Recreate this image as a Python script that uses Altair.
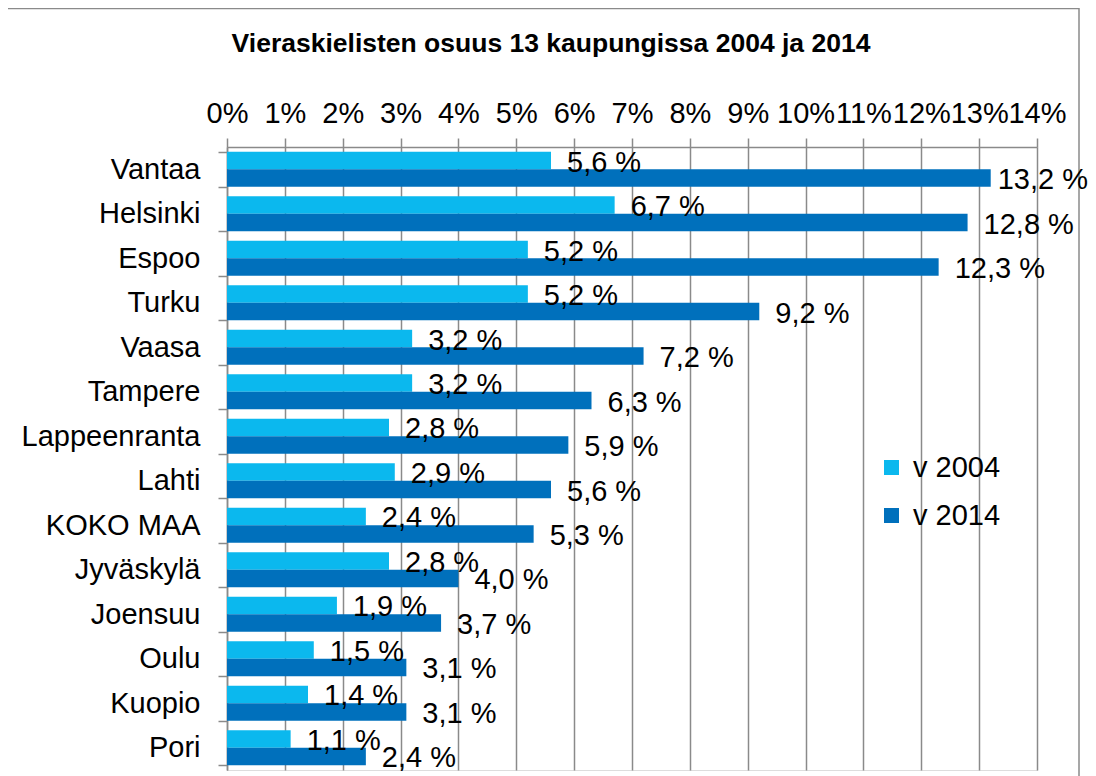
import altair as alt
import pandas as pd

categories = ["Vantaa", "Helsinki", "Espoo", "Turku", "Vaasa", "Tampere", "Lappeenranta",
              "Lahti", "KOKO MAA", "Jyväskylä", "Joensuu", "Oulu", "Kuopio", "Pori"]
v2004 = [5.6, 6.7, 5.2, 5.2, 3.2, 3.2, 2.8, 2.9, 2.4, 2.8, 1.9, 1.5, 1.4, 1.1]
v2014 = [13.2, 12.8, 12.3, 9.2, 7.2, 6.3, 5.9, 5.6, 5.3, 4.0, 3.7, 3.1, 3.1, 2.4]
series = ["v 2004", "v 2014"]
colors = ["#0BB8EE", "#0070BC"]
x_ticks = list(range(0, 15))
title_text = "Vieraskielisten osuus 13 kaupungissa 2004 ja 2014"

rows = []
for c, a, b in zip(categories, v2004, v2014):
    rows.append({"kaupunki": c, "sarja": series[0], "arvo": a})
    rows.append({"kaupunki": c, "sarja": series[1], "arvo": b})
df = pd.DataFrame(rows)

FONT = "Liberation Sans"
GRAY = "#8a8a8a"
FS = 29

y_enc = alt.Y(
    "kaupunki:N", sort=categories,
    scale=alt.Scale(paddingInner=0.213, paddingOuter=0.107),
    axis=alt.Axis(title=None, labelFontSize=FS, labelFont=FONT, labelColor="black",
                  labelPadding=18, tickSize=9, tickBand="extent", tickColor=GRAY,
                  tickWidth=1.5, domainColor=GRAY, domainWidth=1.5, grid=False),
)
yoff_enc = alt.YOffset("sarja:N", sort=series,
                       scale=alt.Scale(paddingInner=0, paddingOuter=0))
x_enc = alt.X(
    "arvo:Q", scale=alt.Scale(domain=[0, 14], nice=False),
    axis=alt.Axis(orient="top", values=x_ticks, labelExpr="datum.value + '%'", title=None,
                  labelFontSize=FS, labelFont=FONT, labelColor="black", labelPadding=10,
                  tickSize=9, tickColor=GRAY, tickWidth=1.5, domainColor=GRAY,
                  domainWidth=1.5, grid=True, gridColor=GRAY, gridWidth=1.5,
                  labelFlush=False, labelOverlap=False),
)

base = alt.Chart(df)

bars = base.mark_bar().encode(
    x=x_enc, y=y_enc, yOffset=yoff_enc,
    color=alt.Color("sarja:N", scale=alt.Scale(domain=series, range=colors),
                    legend=alt.Legend(title=None, orient="none", legendX=650, legendY=306,
                                      symbolType="square", symbolSize=225,
                                      symbolStrokeWidth=0, labelFontSize=FS,
                                      labelFont=FONT, labelColor="black", labelOffset=7,
                                      rowPadding=18, padding=0)),
)

label_calc = "replace(format(datum.arvo, '.1f'), '.', ',') + ' %'"

labels = base.transform_calculate(teksti=label_calc).transform_filter(
    "datum.arvo < 13"
).mark_text(align="left", baseline="middle", dx=16, dy=2, fontSize=FS, font=FONT,
            color="black").encode(
    x="arvo:Q", y=alt.Y("kaupunki:N", sort=categories),
    yOffset=alt.YOffset("sarja:N", sort=series), text="teksti:N",
)

labels_top = base.transform_calculate(teksti=label_calc).transform_filter(
    "datum.arvo >= 13"
).mark_text(align="left", baseline="middle", dx=7, dy=2, fontSize=FS, font=FONT,
            color="black").encode(
    x="arvo:Q", y=alt.Y("kaupunki:N", sort=categories),
    yOffset=alt.YOffset("sarja:N", sort=series), text="teksti:N",
)

frame = alt.Chart(pd.DataFrame({"k": [0]})).mark_rect(
    filled=False, stroke=GRAY, strokeWidth=1.5
).encode(x=alt.value(-220), x2=alt.value(852), y=alt.value(-138.5), y2=alt.value(660))

chart = alt.layer(frame, bars, labels, labels_top).properties(
    width=810, height=623,
    autosize=alt.AutoSizeParams(type="none"),
    padding={"left": 219, "top": 139, "right": 51, "bottom": 6},
    title=alt.TitleParams(title_text, anchor="middle", frame="group", dx=-81,
                          fontSize=26.5, font=FONT, fontWeight="bold", color="black",
                          offset=-50),
).configure_view(stroke=None).configure(background="white")

chart.save("out.html", embed_options={"renderer": "svg", "actions": False})
